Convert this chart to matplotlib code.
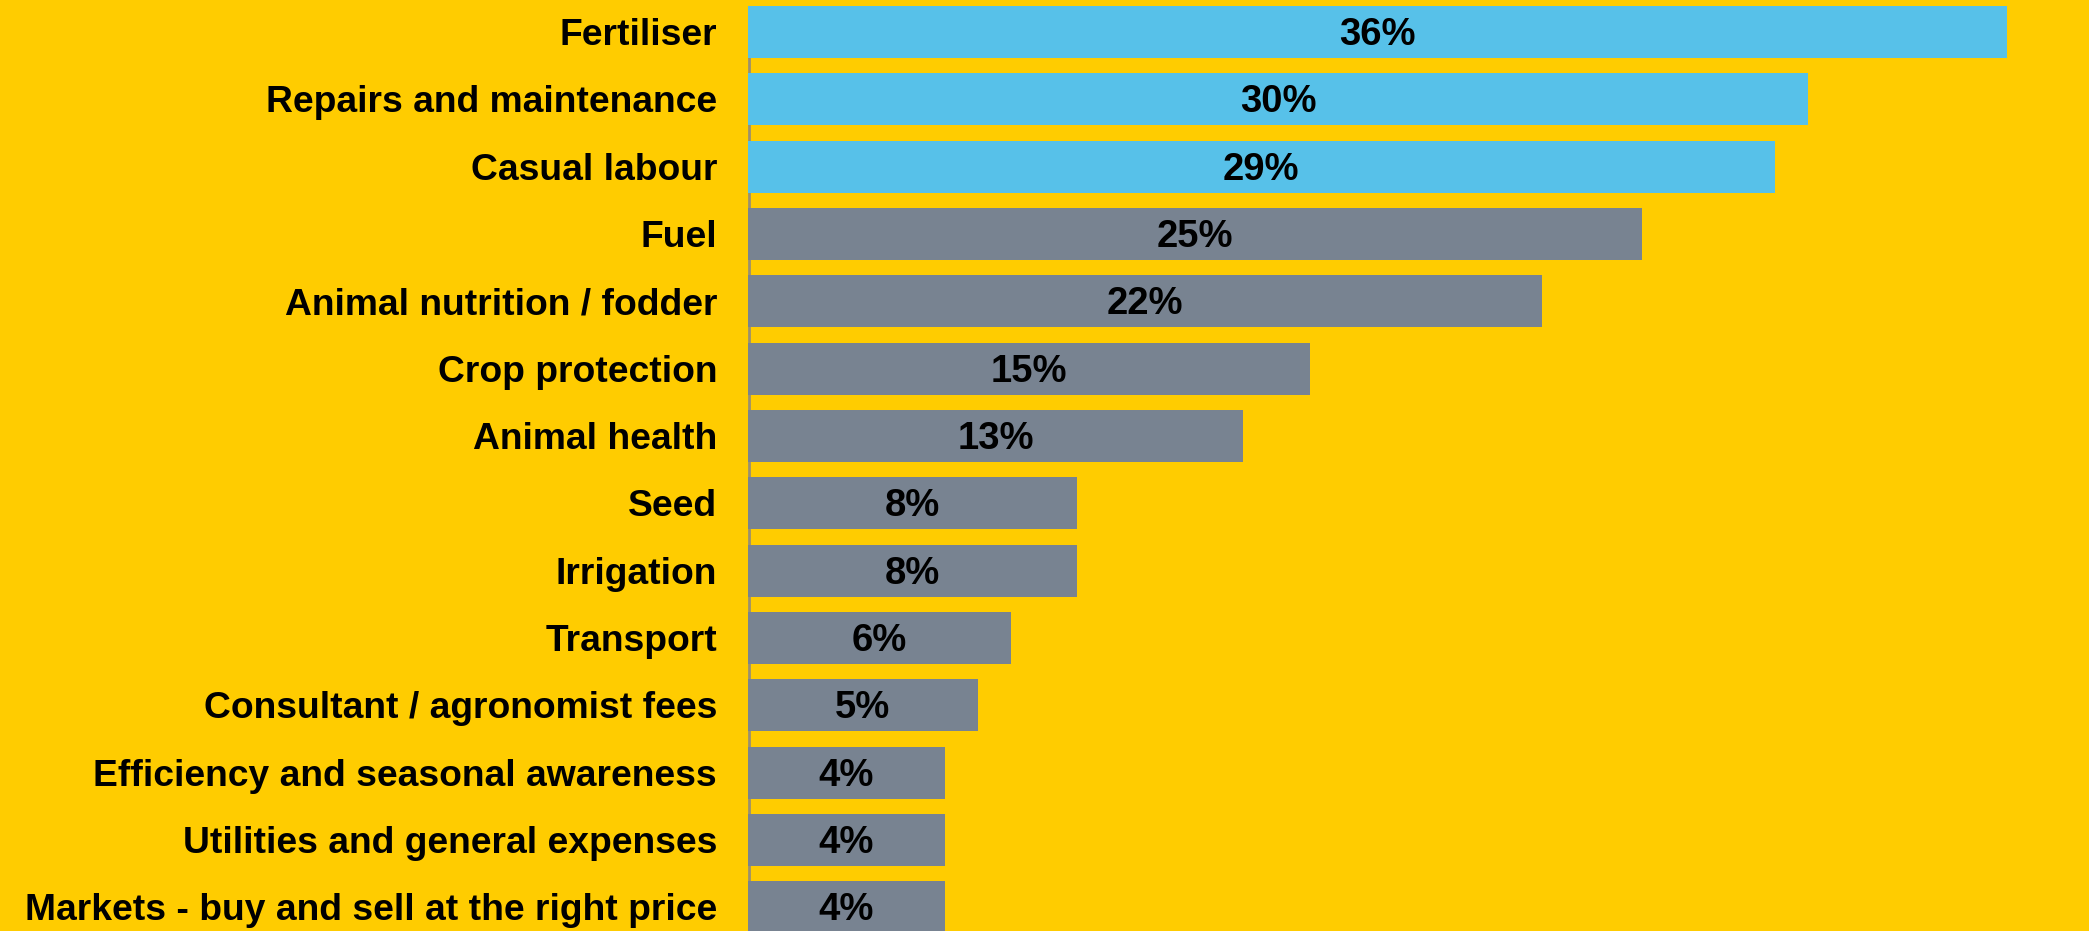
import matplotlib
matplotlib.use("Agg")
import matplotlib.pyplot as plt

categories = [
    "Fertiliser",
    "Repairs and maintenance",
    "Casual labour",
    "Fuel",
    "Animal nutrition / fodder",
    "Crop protection",
    "Animal health",
    "Seed",
    "Irrigation",
    "Transport",
    "Consultant / agronomist fees",
    "Efficiency and seasonal awareness",
    "Utilities and general expenses",
    "Markets - buy and sell at the right price",
]
values = [36, 30, 29, 25, 22, 15, 13, 8, 8, 6, 5, 4, 4, 4]
highlight = [True, True, True] + [False] * 11

BG = "#FFCC00"
BLUE = "#57C1E9"
GREY = "#788391"

plt.rcParams["font.family"] = ["Liberation Sans", "DejaVu Sans"]

W, H = 2089, 931
fig = plt.figure(figsize=(W / 100, H / 100), dpi=100, facecolor=BG)

# axes occupy the right part of the canvas; labels sit to its left
ax_left_px = 748
ax = fig.add_axes([ax_left_px / W, 0, 1 - ax_left_px / W, 1])
ax.set_facecolor(BG)

x_min, x_max = -1.92, 38.47
ax.set_xlim(x_min, x_max)
pitch = 67.33
first_center = 32.0
ax.set_ylim((H - first_center) / pitch, -first_center / pitch)

ys = list(range(len(categories)))
colors = [BLUE if h else GREY for h in highlight]
ax.barh(ys, [v - x_min for v in values], left=x_min, height=0.772,
        color=colors, zorder=3)

base_off = 0.195  # baseline shift so capitals sit centred on each bar
for y, v, name in zip(ys, values, categories):
    ax.text((x_min + v) / 2, y + base_off, f"{v}%", ha="center",
            va="baseline", fontsize=27.5, fontweight="bold",
            color="black", zorder=4)
    ax.text(x_min - 0.93, y + base_off, name, ha="right", va="baseline",
            fontsize=26.8, fontweight="bold", color="black", clip_on=False)

# thin baseline along the left edge of the bars
ax.axvline(x_min + 0.02, ymin=0, ymax=1 - 35 / H, color="#9a9070",
           lw=2, zorder=2, clip_on=False)

for s in ax.spines.values():
    s.set_visible(False)
ax.set_xticks([])
ax.set_yticks([])

fig.savefig("out.png", dpi=100, facecolor=BG)
